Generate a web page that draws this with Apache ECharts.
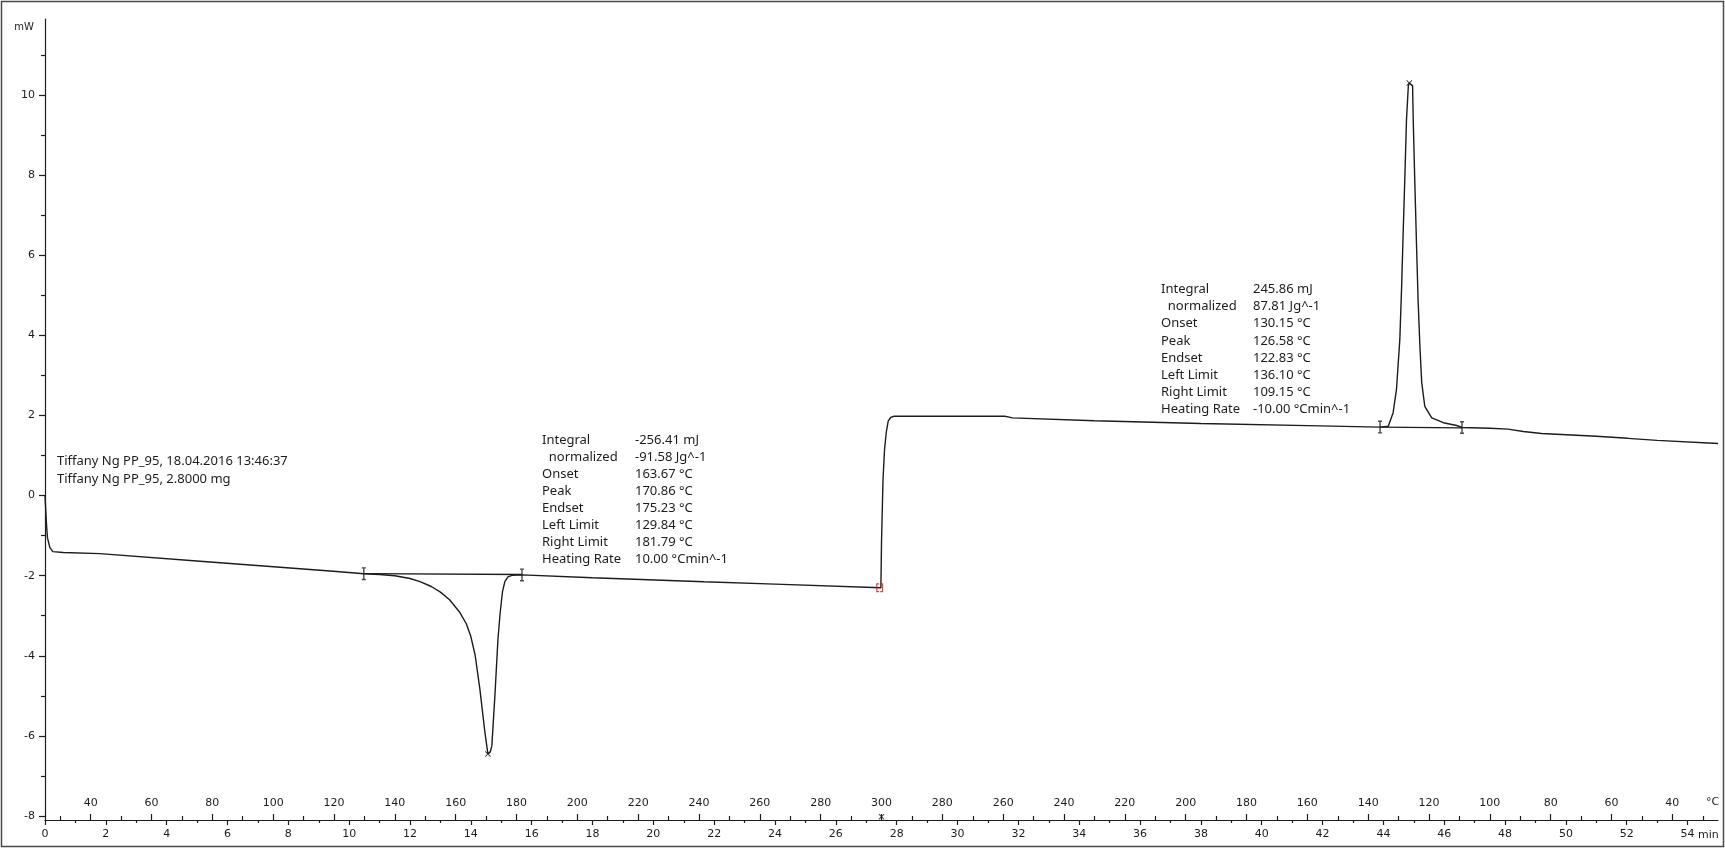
<!DOCTYPE html>
<html>
<head>
<meta charset="utf-8">
<title>DSC PP_95</title>
<script src="https://cdn.jsdelivr.net/npm/echarts@6/dist/echarts.min.js"></script>
<style>
  html, body { margin: 0; padding: 0; background: #fff; }
  #chart { width: 1725px; height: 848px; }
</style>
</head>
<body>
<div id="chart"></div>
<script>
// Heat flow (mW) against time (min). Heating 25 -> 300 °C, then cooling at -10 °C/min.

// Start-up transient and heating baseline up to the melting left limit
const runStart = [
  [0, 0], [0.01, -0.15], [0.05, -0.73], [0.08, -1.05], [0.16, -1.3], [0.26, -1.4],
  [0.6, -1.42], [1.8, -1.45], [5.1, -1.64], [9.48, -1.89], [10.48, -1.95]
];
// Melting endotherm
const meltPeak = [
  [10.48, -1.95], [11.0, -1.97], [11.5, -2.0], [12.0, -2.07], [12.33, -2.15], [12.7, -2.27],
  [13.0, -2.41], [13.3, -2.6], [13.64, -2.92], [13.85, -3.2], [14.0, -3.52], [14.14, -3.98],
  [14.3, -4.85], [14.46, -5.9], [14.56, -6.45], [14.64, -6.4], [14.69, -6.25], [14.79, -5.0],
  [14.89, -3.6], [14.96, -2.95], [15.04, -2.4], [15.12, -2.14], [15.22, -2.03], [15.35, -1.99], [15.68, -1.98]
];
// Melt baseline continued to the end of heating
const heatTail = [
  [15.68, -1.98], [18, -2.05], [21.66, -2.15], [24, -2.21], [27.48, -2.3]
];
// Switch from heating to cooling
const coolStep = [
  [27.48, -2.3], [27.5, -1.18], [27.55, 0.4], [27.6, 1.15], [27.66, 1.6], [27.72, 1.86],
  [27.8, 1.95], [27.9, 1.98]
];
// Cooling baseline up to the crystallisation left limit
const coolPlateau = [
  [27.9, 1.98], [31.55, 1.98], [31.6, 1.95], [31.7, 1.96], [31.8, 1.94], [34.5, 1.87],
  [38, 1.8], [41.9, 1.74], [43.89, 1.71]
];
// Crystallisation exotherm
const crystPeak = [
  [43.89, 1.71], [44.16, 1.73], [44.32, 2.07], [44.43, 2.65], [44.54, 3.9], [44.6, 5.23],
  [44.65, 6.57], [44.71, 8.07], [44.76, 9.4], [44.82, 10.23], [44.85, 10.3], [44.9, 10.28],
  [44.96, 10.23], [44.98, 9.4], [45.03, 7.9], [45.09, 6.23], [45.14, 4.9], [45.2, 3.73],
  [45.26, 2.82], [45.36, 2.23], [45.59, 1.94], [45.97, 1.82], [46.41, 1.75], [46.585, 1.7]
];
// Cooling tail after the exotherm
const coolTail = [
  [46.585, 1.7], [47.5, 1.68], [48.1, 1.66], [48.6, 1.6], [49.2, 1.55], [51, 1.48],
  [52.04, 1.43], [53, 1.38], [55, 1.3]
];

// Integration baselines between the evaluation limits
const meltBaseline = [[10.48, -1.95], [15.68, -1.97]];
const crystBaseline = [[43.89, 1.71], [46.585, 1.69]];
// Evaluation limit marks, peak marks, segment change marks
const limitMarks = [[10.48, -1.95], [15.68, -1.98], [43.89, 1.71], [46.585, 1.7]];
const peakMarks = [[14.56, -6.45], [44.85, 10.3]];
const segmentMarks = [[27.44, -2.3]];
const axisMarks = [[27.5, -8.02]];

// Time axis ticks (min)
const timeLabelValues = [0, 2, 4, 6, 8, 10, 12, 14, 16, 18, 20, 22, 24, 26, 28, 30, 32, 34, 36, 38, 40, 42, 44, 46, 48, 50, 52, 54];
const timeMinorValues = [1, 3, 5, 7, 9, 11, 13, 15, 17, 19, 21, 23, 25, 27, 29, 31, 33, 35, 37, 39, 41, 43, 45, 47, 49, 51, 53];
// Temperature axis ticks: position in min and the °C label
const tempLabelMinutes = [1.5, 3.5, 5.5, 7.5, 9.5, 11.5, 13.5, 15.5, 17.5, 19.5, 21.5, 23.5, 25.5, 27.5,
  29.5, 31.5, 33.5, 35.5, 37.5, 39.5, 41.5, 43.5, 45.5, 47.5, 49.5, 51.5, 53.5];
const tempLabels = ['40', '60', '80', '100', '120', '140', '160', '180', '200', '220', '240', '260', '280', '300',
  '280', '260', '240', '220', '200', '180', '160', '140', '120', '100', '80', '60', '40'];
const tempMinorMinutes = [0.5, 2.5, 4.5, 6.5, 8.5, 10.5, 12.5, 14.5, 16.5, 18.5, 20.5, 22.5, 24.5, 26.5,
  28.5, 30.5, 32.5, 34.5, 36.5, 38.5, 40.5, 42.5, 44.5, 46.5, 48.5, 50.5, 52.5, 54.5];
// Heat flow axis ticks (mW)
const mwLabelValues = [-8, -6, -4, -2, 0, 2, 4, 6, 8, 10];
const mwMinorValues = [-7, -5, -3, -1, 1, 3, 5, 7, 9, 11];

// Evaluation tables
const meltTableKeys = ['Integral', '  normalized', 'Onset', 'Peak', 'Endset', 'Left Limit', 'Right Limit', 'Heating Rate'];
const meltTableValues = ['-256.41 mJ', '-91.58 Jg^-1', '163.67 °C', '170.86 °C', '175.23 °C', '129.84 °C', '181.79 °C', '10.00 °Cmin^-1'];
const crystTableKeys = ['Integral', '  normalized', 'Onset', 'Peak', 'Endset', 'Left Limit', 'Right Limit', 'Heating Rate'];
const crystTableValues = ['245.86 mJ', '87.81 Jg^-1', '130.15 °C', '126.58 °C', '122.83 °C', '136.10 °C', '109.15 °C', '-10.00 °Cmin^-1'];
const sampleInfo = ['Tiffany Ng PP_95, 18.04.2016 13:46:37', 'Tiffany Ng PP_95, 2.8000 mg'];

const INK = '#1c1c1c';
const AXIS_FONT = 'DejaVu Sans';

const curve = [].concat(runStart, meltPeak.slice(1), heatTail.slice(1), coolStep.slice(1),
  coolPlateau.slice(1), crystPeak.slice(1), coolTail.slice(1));

const tempLabelMap = {};
tempLabelMinutes.forEach((m, i) => { tempLabelMap[m] = tempLabels[i]; });

const X_MIN = 0, X_MAX = 55, Y_MIN = -8.1, Y_MAX = 11.9;

const limitPath = 'path://M0,0h4v1.5h-4z M1.3,0h1.4v14h-1.4z M0,12.5h4v1.5h-4z';
const crossPath = 'path://M0,1.2L1.2,0L10,8.8L8.8,10Z M8.8,0L10,1.2L1.2,10L0,8.8Z';
const bracketPath = 'path://M0,0h3v1.2h-1.8v6.6h1.8v1.2h-3z M4,0h3v9h-3v-1.2h1.8v-6.6h-1.8z';

function xAxisBase(extra) {
  return Object.assign({
    type: 'value', min: X_MIN, max: X_MAX, position: 'bottom', gridIndex: 0,
    splitLine: { show: false }, axisLine: { show: false, onZero: false }, axisLabel: { show: false },
    axisTick: { show: false }
  }, extra);
}

const chart = echarts.init(document.getElementById('chart'), null, { renderer: 'canvas' });

chart.setOption({
  animation: false,
  backgroundColor: '#ffffff',
  grid: { left: 45, right: 7, top: 19, bottom: 28, containLabel: false },
  xAxis: [
    // time: line, major ticks and labels
    xAxisBase({
      axisLine: { show: true, onZero: false, lineStyle: { color: INK, width: 1.2 } },
      axisTick: { show: true, inside: false, length: 5, customValues: timeLabelValues, lineStyle: { color: INK, width: 1.2 } },
      axisLabel: { show: true, customValues: timeLabelValues, margin: 9, color: INK, fontFamily: AXIS_FONT, fontSize: 11 }
    }),
    // time: minor ticks
    xAxisBase({
      axisTick: { show: true, inside: false, length: 3, customValues: timeMinorValues, lineStyle: { color: INK, width: 1.2 } }
    }),
    // temperature: labelled ticks
    xAxisBase({
      axisTick: { show: true, inside: true, length: 6, customValues: tempLabelMinutes, lineStyle: { color: INK, width: 1.2 } },
      axisLabel: {
        show: true, inside: true, customValues: tempLabelMinutes, margin: 11, color: INK,
        fontFamily: AXIS_FONT, fontSize: 11,
        formatter: v => tempLabelMap[v] !== undefined ? tempLabelMap[v] : ''
      }
    }),
    // temperature: minor ticks
    xAxisBase({
      axisTick: { show: true, inside: true, length: 4, customValues: tempMinorMinutes, lineStyle: { color: INK, width: 1.2 } }
    })
  ],
  yAxis: [
    {
      type: 'value', min: Y_MIN, max: Y_MAX, position: 'left', gridIndex: 0,
      name: 'mW', nameLocation: 'end', nameGap: -8,
      nameTextStyle: { color: INK, fontFamily: AXIS_FONT, fontSize: 10, align: 'right', verticalAlign: 'middle', padding: [0, 11, 0, 0] },
      splitLine: { show: false },
      axisLine: { show: true, onZero: false, lineStyle: { color: INK, width: 1.2 } },
      axisTick: { show: true, inside: false, length: 6, customValues: mwLabelValues, lineStyle: { color: INK, width: 1.2 } },
      axisLabel: { show: true, customValues: mwLabelValues, margin: 10, color: INK, fontFamily: AXIS_FONT, fontSize: 11 }
    },
    {
      type: 'value', min: Y_MIN, max: Y_MAX, position: 'left', gridIndex: 0,
      splitLine: { show: false }, axisLine: { show: false, onZero: false }, axisLabel: { show: false },
      axisTick: { show: true, inside: false, length: 4, customValues: mwMinorValues, lineStyle: { color: INK, width: 1.2 } }
    }
  ],
  series: [
    {
      name: 'heat flow', type: 'line', data: curve, showSymbol: false, symbol: 'none',
      lineStyle: { color: INK, width: 1.4 }, z: 3
    },
    {
      name: 'melt baseline', type: 'line', data: meltBaseline, showSymbol: false, symbol: 'none',
      lineStyle: { color: INK, width: 1.3 }, z: 3
    },
    {
      name: 'cryst baseline', type: 'line', data: crystBaseline, showSymbol: false, symbol: 'none',
      lineStyle: { color: INK, width: 1.3 }, z: 3
    },
    {
      name: 'limits', type: 'scatter', data: limitMarks, symbol: limitPath, symbolSize: [4, 13],
      itemStyle: { color: INK }, z: 4
    },
    {
      name: 'peaks', type: 'scatter', data: peakMarks, symbol: crossPath, symbolSize: 6,
      itemStyle: { color: INK }, z: 4
    },
    {
      name: 'segment', type: 'scatter', data: segmentMarks, symbol: bracketPath, symbolSize: [7, 9],
      itemStyle: { color: '#cc1a1a' }, z: 4
    },
    {
      name: 'axis mark', type: 'scatter', data: axisMarks, symbol: crossPath, symbolSize: 6, clip: false,
      itemStyle: { color: INK }, z: 4
    }
  ],
  graphic: [
    { type: 'rect', silent: true, shape: { x: 1.5, y: 1.5, width: 1722, height: 845 },
      style: { fill: 'none', stroke: '#4a4a4a', lineWidth: 1.5 } },
    { type: 'text', x: 57, y: 453, silent: true,
      style: { text: sampleInfo.join('\n'), font: '13px "Noto Sans"', fill: INK, lineHeight: 17.3, verticalAlign: 'top' } },
    { type: 'text', x: 542, y: 431.5, silent: true,
      style: { text: meltTableKeys.join('\n'), font: '13px "Noto Sans"', fill: INK, lineHeight: 17.1, verticalAlign: 'top' } },
    { type: 'text', x: 635, y: 431.5, silent: true,
      style: { text: meltTableValues.join('\n'), font: '13px "Noto Sans"', fill: INK, lineHeight: 17.1, verticalAlign: 'top' } },
    { type: 'text', x: 1161, y: 280.7, silent: true,
      style: { text: crystTableKeys.join('\n'), font: '13px "Noto Sans"', fill: INK, lineHeight: 17.2, verticalAlign: 'top' } },
    { type: 'text', x: 1253, y: 280.7, silent: true,
      style: { text: crystTableValues.join('\n'), font: '13px "Noto Sans"', fill: INK, lineHeight: 17.2, verticalAlign: 'top' } },
    { type: 'text', x: 1698, y: 835, silent: true,
      style: { text: 'min', font: '11px "DejaVu Sans"', fill: INK, verticalAlign: 'middle' } },
    { type: 'text', x: 1706, y: 802, silent: true,
      style: { text: '°C', font: '11px "DejaVu Sans"', fill: INK, verticalAlign: 'middle' } }
  ]
});
</script>
</body>
</html>
